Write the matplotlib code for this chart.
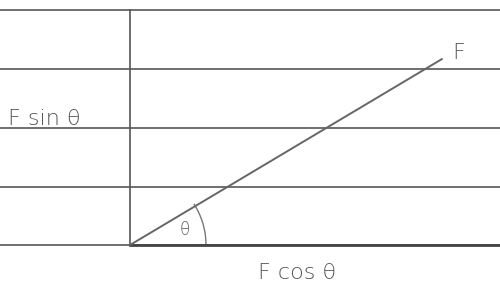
import numpy as np
import matplotlib.pyplot as plt
from matplotlib.patches import Arc

# ruled paper lines (pixel rows) and the force vector
rule_rows = [10, 69, 128, 187, 245]
origin = (130, 245)
force_len = 363
force_angle = 30.8  # degrees
arc_radius = 76

labels = {"F": (452, 53), "F sin θ": (8, 119), "F cos θ": (258, 273), "θ": (180, 230)}

fig = plt.figure(figsize=(5, 2.85), dpi=100)
ax = fig.add_axes([0, 0, 1, 1])
ax.set_xlim(0, 500)
ax.set_ylim(285, 0)
ax.axis('off')

pencil = '#555555'
for y in rule_rows:
    ax.plot([0, 500], [y, y], color=pencil, lw=1.4, alpha=0.85)

# vertical axis
ax.plot([origin[0], origin[0]], [rule_rows[0], origin[1]], color=pencil, lw=1.2)
# horizontal axis (darker on top of the ruled line)
ax.plot([origin[0], 500], [origin[1], origin[1]], color='#444444', lw=2.0)

# force line
a = np.radians(force_angle)
ax.plot([origin[0], origin[0] + force_len * np.cos(a)],
        [origin[1], origin[1] - force_len * np.sin(a)], color='#666666', lw=1.4)

# angle arc
ax.add_patch(Arc(origin, 2 * arc_radius, 2 * arc_radius, theta1=-force_angle - 2, theta2=0,
                 color='#777777', lw=1.0))

for txt, (x, y) in labels.items():
    ax.text(x, y, txt, fontsize=16 if txt != "θ" else 12, color='#555555',
            family='DejaVu Sans', fontweight='light', va='center', ha='left')

fig.savefig('out.png', dpi=100)
